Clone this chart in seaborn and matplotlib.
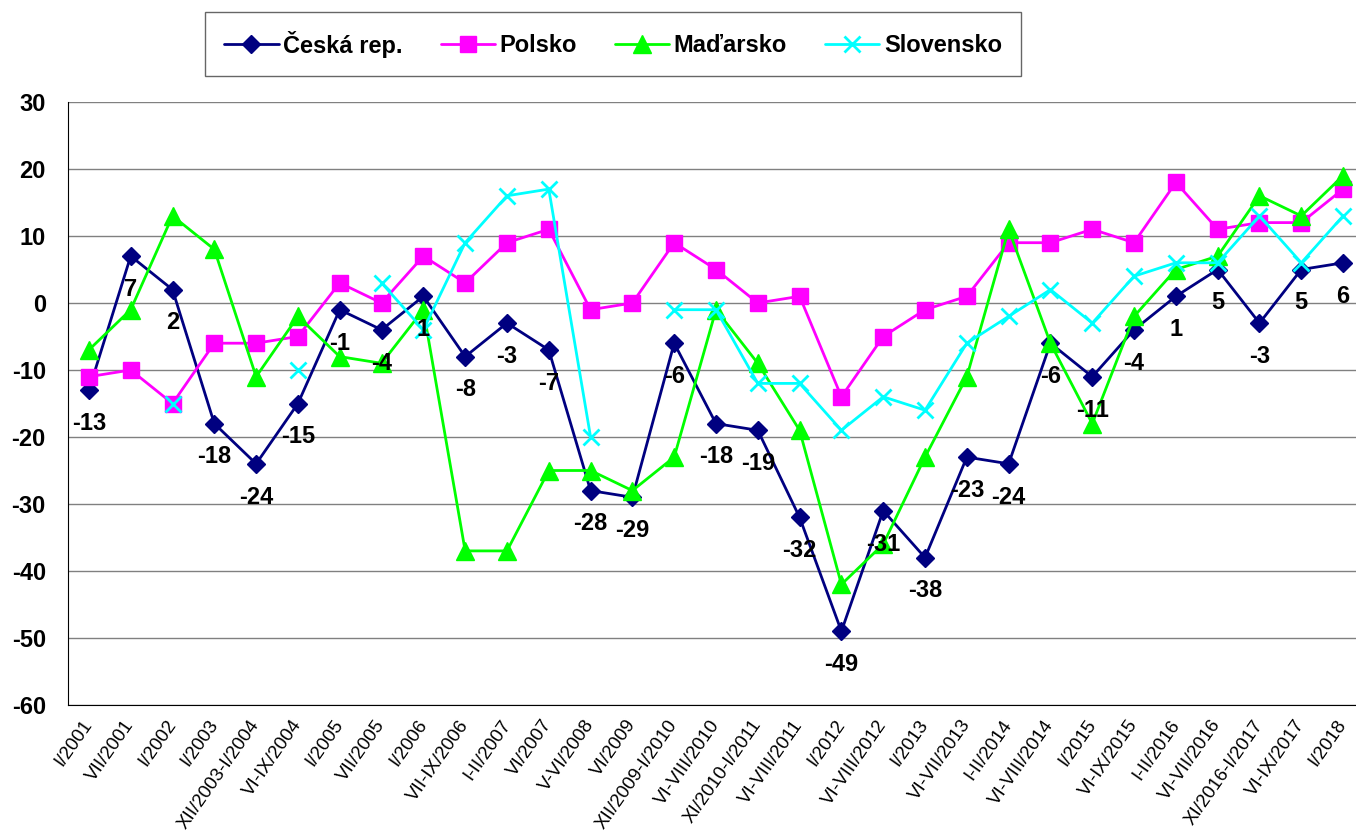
import numpy as np
import pandas as pd
import matplotlib
matplotlib.use('Agg')
import matplotlib.pyplot as plt
import seaborn as sns

periods = ['I/2001', 'VII/2001', 'I/2002', 'I/2003', 'XII/2003-I/2004', 'VI-IX/2004',
           'I/2005', 'VII/2005', 'I/2006', 'VII-IX/2006', 'I-II/2007', 'VI/2007',
           'V-VI/2008', 'VI/2009', 'XII/2009-I/2010', 'VI-VIII/2010', 'XI/2010-I/2011',
           'VI-VIII/2011', 'I/2012', 'VI-VIII/2012', 'I/2013', 'VI-VII/2013', 'I-II/2014',
           'VI-VIII/2014', 'I/2015', 'VI-IX/2015', 'I-II/2016', 'VI-VII/2016',
           'XI/2016-I/2017', 'VI-IX/2017', 'I/2018']

cz = [-13, 7, 2, -18, -24, -15, -1, -4, 1, -8, -3, -7, -28, -29, -6, -18, -19, -32,
      -49, -31, -38, -23, -24, -6, -11, -4, 1, 5, -3, 5, 6]
pl = [-11, -10, -15, -6, -6, -5, 3, 0, 7, 3, 9, 11, -1, 0, 9, 5, 0, 1,
      -14, -5, -1, 1, 9, 9, 11, 9, 18, 11, 12, 12, 17]
hu = [-7, -1, 13, 8, -11, -2, -8, -9, -1, -37, -37, -25, -25, -28, -23, -1, -9, -19,
      -42, -36, -23, -11, 11, -6, -18, -2, 5, 7, 16, 13, 19]
sk = [np.nan, np.nan, -15, np.nan, np.nan, -10, np.nan, 3, -4, 9, 16, 17, -20, np.nan,
      -1, -1, -12, -12, -19, -14, -16, -6, -2, 2, -3, 4, 6, 6, 13, 6, 13]

series = [
    ('Česká rep.', cz, '#000080', 'D', 9),
    ('Polsko', pl, '#FF00FF', 's', 12),
    ('Maďarsko', hu, '#00FF00', '^', 13),
    ('Slovensko', sk, '#00FFFF', 'x', 12),
]

sns.set_style('white')
plt.rcParams['font.family'] = ['Liberation Sans', 'DejaVu Sans']
plt.rcParams['axes.unicode_minus'] = False
plt.rcParams['text.color'] = 'black'
plt.rcParams['xtick.labelcolor'] = 'black'
plt.rcParams['ytick.labelcolor'] = 'black'

fig = plt.figure(figsize=(13.56, 8.33), dpi=100)
ax = fig.add_axes([68 / 1356, 128 / 833, (1364 - 68) / 1356, (705 - 102) / 833])

pos = np.arange(len(periods))
handles = []
for name, vals, color, marker, ms in series:
    df = pd.DataFrame({'pos': pos, 'val': vals})
    df['seg'] = df['val'].isna().cumsum()
    df = df.dropna()
    sns.lineplot(data=df, x='pos', y='val', units='seg', estimator=None, ax=ax,
                 color=color, lw=2, marker=marker, markersize=ms,
                 markeredgecolor=color, markeredgewidth=2 if marker == 'x' else 1,
                 legend=False, zorder=3)
    handles.append(plt.Line2D([], [], color=color, lw=2, marker=marker,
                              markersize=ms, markeredgecolor=color,
                              markeredgewidth=2 if marker == 'x' else 1))

for x, v in zip(pos, cz):
    ax.annotate(str(v), (x, v), xytext=(0, -24), textcoords='offset points',
                ha='center', va='center', fontsize=17, fontweight='bold',
                color='black', zorder=5)

ax.set_xlim(-0.5, len(periods) - 0.5)
ax.set_ylim(-60, 30)
ax.set_yticks(range(-60, 31, 10))
ax.yaxis.grid(True, color='#808080', lw=1)
ax.set_xticks(pos)
ax.set_xticklabels(periods, rotation=55, ha='right', rotation_mode='anchor',
                   va='center', fontsize=13.5, color='black')
ax.set_xticks(np.arange(-0.5, len(periods), 1), minor=True)
ax.tick_params(axis='x', which='major', length=0, pad=12)
ax.tick_params(axis='x', which='minor', length=5, color='#808080', direction='out')
ax.tick_params(axis='y', length=6, color='#808080', direction='out', pad=10)
for lab in ax.get_yticklabels():
    lab.set_fontsize(17)
    lab.set_fontweight('bold')
    lab.set_color('black')
ax.set_xlabel('')
ax.set_ylabel('')
for s in ['top', 'right']:
    ax.spines[s].set_visible(False)
ax.spines['left'].set_color('black')
ax.spines['bottom'].set_color('black')

leg = fig.legend(handles, [s[0] for s in series], loc='center',
                 bbox_to_anchor=(613 / 1356, 1 - 44 / 833), ncol=4,
                 frameon=True, fancybox=False, edgecolor='#404040',
                 handlelength=2.3, columnspacing=1.6, handletextpad=0.2,
                 borderpad=0.8, prop={'weight': 'bold', 'size': 17})
leg.get_frame().set_linewidth(1)
for t in leg.get_texts():
    t.set_color('black')

fig.savefig('out.png', dpi=100)
